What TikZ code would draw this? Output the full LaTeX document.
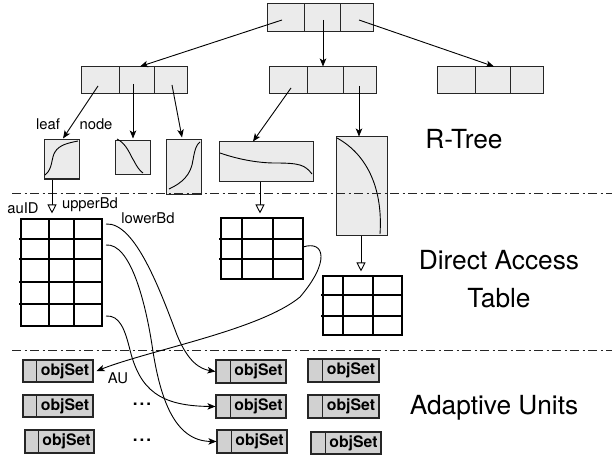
\documentclass[tikz,border=0pt]{standalone}
\usepackage{fontspec}
\setmainfont{TeX Gyre Heros}
\usetikzlibrary{arrows.meta,fit}
\newcommand\ObjBox[6]{%
  \node[objbox,fit={(#2,#5) (#4,#6)}] (#1) {};
  \draw[line width=1pt,draw=black!85] (#3,#5) -- (#3,#6+1);
  \node[objtext] at ({(#3+#4)/2+0.5},{(#5+#6)/2}) {objSet};
}
\begin{document}
\begin{tikzpicture}[x=1pt,y=-1pt,
  rnode/.style={draw=black!85,fill=black!8,line width=1pt,inner sep=0pt},
  leafbox/.style={draw=black!85,fill=black!8,line width=1pt,inner sep=0pt},
  tbl/.style={draw=black,line width=1.1pt,inner sep=0pt},
  gl/.style={line width=1.1pt},
  rl/.style={line width=1pt,draw=black!85},
  objbox/.style={draw=black!85,fill=black!18,line width=1.1pt,inner sep=0pt},
  ptr/.style={-{Stealth[length=8pt,width=6.5pt,inset=2pt]},line width=0.9pt},
  downarr/.style={-{Triangle[open,length=9pt,width=9pt,fill=white]},line width=0.9pt},
  curv/.style={line width=0.9pt},
  sepline/.style={line width=1pt,draw=black!85,dash pattern=on 9pt off 3.5pt on 2pt off 3.5pt},
  lbl/.style={font=\fontsize{14.8}{16}\selectfont,inner sep=0pt},
  big/.style={font=\fontsize{26.3}{30}\selectfont,inner sep=0pt},
  objtext/.style={font=\fontsize{15.8}{17}\selectfont\bfseries,inner sep=0pt},
  dotsty/.style={font=\fontsize{17}{18}\selectfont\bfseries,inner sep=0pt}
]
\useasboundingbox (0,0) rectangle (615,457);

% ---------- R-tree nodes ----------
\node[rnode,minimum width=106pt,minimum height=28pt] (root) at (320,18) {};
\draw[rl] (304,4) -- (304,32) (340,4) -- (340,32);
\node[rnode,minimum width=106pt,minimum height=27pt] (L2a) at (134,80.5) {};
\draw[rl] (119,67) -- (119,94) (154,67) -- (154,94);
\node[rnode,minimum width=107pt,minimum height=27pt] (L2b) at (322.5,80.5) {};
\draw[rl] (307,67) -- (307,94) (343,67) -- (343,94);
\node[rnode,minimum width=106pt,minimum height=27pt] (L2c) at (490,80.5) {};
\draw[rl] (475,67) -- (475,94) (510,67) -- (510,94);

% leaves
\node[leafbox,minimum width=35pt,minimum height=39pt] (leaf1) at (61.5,159.5) {};
\node[leafbox,minimum width=35pt,minimum height=34pt] (leaf2) at (132.5,158) {};
\node[leafbox,minimum width=35pt,minimum height=54pt] (leaf3) at (183.5,167) {};
\node[leafbox,minimum width=94pt,minimum height=39pt] (leaf4) at (266,161.5) {};
\node[leafbox,minimum width=51pt,minimum height=98pt] (leaf5) at (361.5,186) {};

\draw[curv] (45,175) .. controls (53,169) and (51,158) .. (55,152) .. controls (59,145) and (68,143) .. (78,141);
\draw[curv] (117,139) .. controls (127,144) and (130,155) .. (134,161) .. controls (137,167) and (140,171) .. (143,173);
\draw[curv] (169,189) .. controls (182,183) and (191,175) .. (193,160) .. controls (195,148) and (197,144) .. (200,142);
\draw[curv] (220,153) .. controls (240,160) and (260,163) .. (275,163) .. controls (300,163) and (305,165) .. (312,174);
\draw[curv] (337,138) .. controls (368,155) and (383,190) .. (380,234);

% pointers
\coordinate (r1) at (282,20); \coordinate (r2) at (323,20); \coordinate (r3) at (359,20);
\coordinate (a1) at (98,86); \coordinate (a2) at (133,84); \coordinate (a3) at (172,85);
\coordinate (b1) at (291,88); \coordinate (b3) at (359,86);
\draw[ptr] (r1) -- ([xshift=6pt]L2a.north);
\draw[ptr] (r2) -- ([xshift=0.5pt]L2b.north);
\draw[ptr] (r3) -- ([xshift=4pt]L2c.north);
\draw[ptr] (a1) -- ([xshift=1.5pt,yshift=1pt]leaf1.north);
\draw[ptr] (a2) -- ([xshift=0.5pt,yshift=2pt]leaf2.north);
\draw[ptr] (a3) -- ([xshift=-1.5pt,yshift=2pt]leaf3.north);
\draw[ptr] (b1) -- ([xshift=-13pt]leaf4.north);
\draw[ptr] (b3) -- ([xshift=-2.5pt]leaf5.north);

% separators
\draw[sepline] (12,193) -- (612,193);
\draw[sepline] (12,350) -- (612,350);

% ---------- tables ----------
\node[tbl,minimum width=81pt,minimum height=107pt] (T1) at (61.5,272.5) {};
\draw[gl] (49,219) -- (49,326) (74,219) -- (74,326);
\draw[gl] (19,239) -- (102,239) (19,259) -- (102,259) (19,282) -- (102,282) (19,304) -- (102,304);
\node[tbl,minimum width=82pt,minimum height=61pt] (T2) at (262,248.5) {};
\draw[gl] (242,218) -- (242,279) (273,218) -- (273,279);
\draw[gl] (219,239) -- (303,239) (219,259) -- (303,259);
\node[tbl,minimum width=79pt,minimum height=59pt] (T3) at (362.5,305.5) {};
\draw[gl] (343,276) -- (343,335) (373,276) -- (373,335);
\draw[gl] (321,295) -- (402,295) (321,316) -- (402,316);

\draw[downarr] ([xshift=-9.5pt]leaf1.south) -- ([xshift=-9.5pt,yshift=5pt]T1.north);
\draw[downarr] ([xshift=-6pt]leaf4.south) -- ([xshift=-2pt,yshift=4pt]T2.north);
\draw[downarr] ([xshift=-0.5pt]leaf5.south) -- ([xshift=-1.5pt,yshift=4pt]T3.north);

% ---------- adaptive units ----------
\ObjBox{c1r1}{23}{36}{93}{360}{382}
\ObjBox{c1r2}{23}{36}{93}{395}{417}
\ObjBox{c1r3}{25}{38}{94}{430}{453}
\ObjBox{c2r1}{216}{230}{286}{360}{383}
\ObjBox{c2r2}{216}{230}{286}{395}{418}
\ObjBox{c2r3}{217}{231}{287}{430}{453}
\ObjBox{c3r1}{308}{322}{379}{359}{382}
\ObjBox{c3r2}{308}{322}{379}{395}{418}
\ObjBox{c3r3}{311}{325}{381}{432}{454}

% curves from tables
\coordinate (t1a) at (106,224);
\coordinate (t1b) at (106,245);
\coordinate (t1e) at (106,316);
\coordinate (t2b) at (303,247);
\draw[ptr] (t1a) .. controls (135,222) and (160,290) .. (177,335) .. controls (188,362) and (200,369) .. (c2r1.west);
\draw[ptr] (t1e) .. controls (120,315) and (125,330) .. (130,350) .. controls (140,390) and (160,406) .. (c2r2.west);
\draw[ptr] (t1b) .. controls (130,243) and (145,300) .. (152,345) .. controls (160,400) and (175,441) .. (c2r3.west);
\draw[ptr] (t2b) .. controls (325,240) and (330,262) .. (300,297) .. controls (260,330) and (150,350) .. ([xshift=3pt]c1r1.east);

% ---------- labels ----------
\node[lbl] (lleaf) at (48,124) {leaf};
\node[lbl] (lnode) at (96,124) {node};
\node[lbl] (lauid) at (23,208) {auID};
\node[lbl] (lupper) at (90,205) {upperBd};
\node[lbl] (llower) at (148,218) {lowerBd};
\node[lbl] (lau) at (118,378) {AU};
\node[dotsty] (dots1) at (142,404) {.\hspace{2pt}.\hspace{2pt}.};
\node[dotsty] (dots2) at (142,440) {.\hspace{2pt}.\hspace{2pt}.};
\node[big] (trt) at (464,139) {R-Tree};
\node[big] (tda) at (499,260) {Direct Access};
\node[big] (ttb) at (499,298) {Table};
\node[big] (tau) at (494,408) {Adaptive Units};
\end{tikzpicture}
\end{document}
